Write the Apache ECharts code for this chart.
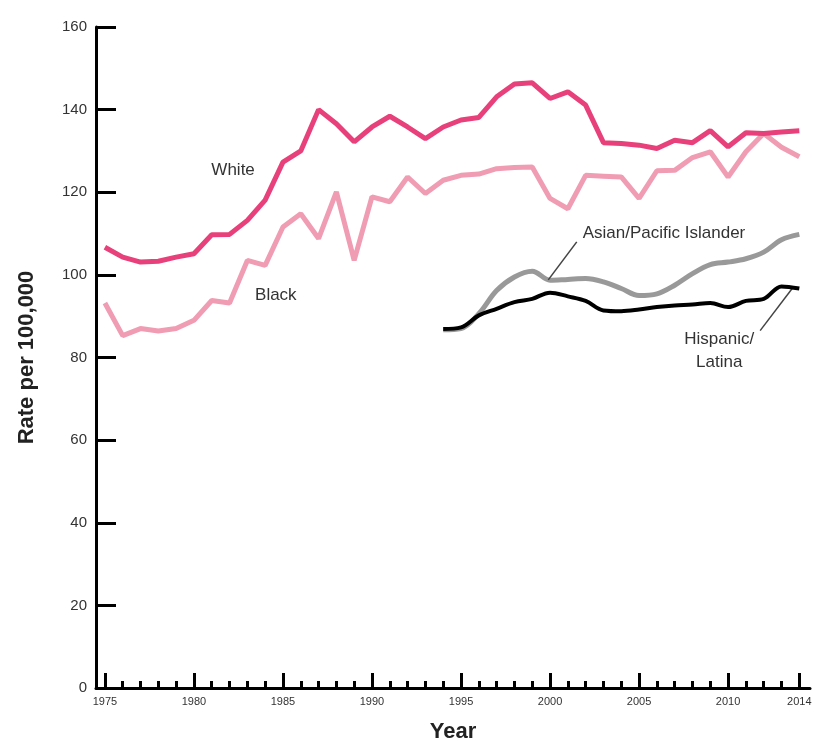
<!DOCTYPE html>
<html>
<head>
<meta charset="utf-8">
<script src="https://cdn.jsdelivr.net/npm/echarts@6/dist/echarts.min.js"></script>
<style>
  html, body { margin: 0; padding: 0; background: #fff; }
  #chart { width: 817px; height: 742px; }
</style>
</head>
<body>
<div id="chart"></div>
<script>
// Breast cancer incidence rates by race/ethnicity, per 100,000
const years = [];
for (let y = 1975; y <= 2014; y++) years.push(y);
const apiYears = [];
for (let y = 1994; y <= 2014; y++) apiYears.push(y);

const whiteRates = [106.7, 104.3, 103.1, 103.3, 104.3, 105.1, 109.7, 109.8, 113.2, 118.1,
  127.3, 130.0, 140.0, 136.6, 132.2, 135.8, 138.4, 135.8, 133.0, 135.8,
  137.5, 138.1, 143.1, 146.2, 146.5, 142.7, 144.3, 141.1, 132.0, 131.8,
  131.4, 130.6, 132.6, 132.0, 134.9, 131.0, 134.4, 134.2, 134.6, 134.9];
const blackRates = [93.2, 85.3, 87.0, 86.4, 87.0, 89.0, 93.8, 93.2, 103.5, 102.3,
  111.6, 114.8, 108.8, 120.1, 103.5, 118.9, 117.7, 123.7, 119.7, 122.9,
  124.1, 124.4, 125.7, 126.0, 126.1, 118.5, 116.0, 124.1, 123.9, 123.7,
  118.5, 125.2, 125.3, 128.4, 129.8, 123.7, 129.8, 134.2, 130.9, 128.6];
const asianRates = [86.7, 87.0, 90.6, 96.2, 99.5, 100.9, 98.7, 98.9, 99.1, 98.3,
  96.7, 95.0, 95.4, 97.5, 100.3, 102.5, 103.1, 103.9, 105.5, 108.5, 109.8];
const hispanicRates = [86.9, 87.3, 90.2, 91.8, 93.4, 94.2, 95.7, 94.8, 93.7, 91.4,
  91.2, 91.6, 92.2, 92.6, 92.8, 93.2, 92.2, 93.7, 94.2, 97.2, 96.7];

const xTickLabels = [1975, 1980, 1985, 1990, 1995, 2000, 2005, 2010, 2014];

const pair = (xs, ys) => xs.map((x, i) => [x, ys[i]]);

const FONT = '"Liberation Sans", Arial, sans-serif';
const labelText = { color: '#333', fontFamily: FONT, fontSize: 17 };

const chart = echarts.init(document.getElementById('chart'), null, { renderer: 'canvas' });

chart.setOption({
  animation: false,
  backgroundColor: '#fff',
  grid: { left: 96, top: 27, right: 7, bottom: 54, containLabel: false, outerBoundsMode: 'none' },
  xAxis: [
    {
      type: 'value', min: 1974.5, max: 2014.6,
      name: 'Year', nameLocation: 'middle', nameGap: 33,
      nameTextStyle: { fontFamily: FONT, fontSize: 22, fontWeight: 'bold', color: '#222' },
      axisLine: { show: true, onZero: false, lineStyle: { color: '#000', width: 3 } },
      axisTick: { show: true, inside: true, length: 15, customValues: xTickLabels,
        lineStyle: { color: '#000', width: 3 } },
      axisLabel: { customValues: xTickLabels, margin: 8, color: '#333',
        fontFamily: FONT, fontSize: 11, formatter: v => String(Math.round(v)) },
      splitLine: { show: false }
    },
    {
      // yearly minor ticks
      type: 'value', min: 1974.5, max: 2014.6, position: 'bottom',
      axisLine: { show: false },
      axisTick: { show: true, inside: true, length: 7, customValues: years,
        lineStyle: { color: '#000', width: 3 } },
      axisLabel: { show: false },
      splitLine: { show: false }
    }
  ],
  yAxis: {
    type: 'value', min: 0, max: 160, interval: 20,
    name: 'Rate per 100,000', nameLocation: 'middle', nameGap: 58, nameRotate: 90,
    nameTextStyle: { fontFamily: FONT, fontSize: 22, fontWeight: 'bold', color: '#222' },
    axisLine: { show: true, lineStyle: { color: '#000', width: 3 } },
    axisTick: { show: true, inside: true, length: 20, lineStyle: { color: '#000', width: 3 } },
    axisLabel: { margin: 9, color: '#333', fontFamily: FONT, fontSize: 15 },
    splitLine: { show: false }
  },
  series: [
    {
      name: 'Black', type: 'line', data: pair(years, blackRates), showSymbol: false,
      lineStyle: { color: '#f09cb3', width: 5 }, z: 2,
      markPoint: {
        symbol: 'circle', symbolSize: 0,
        label: Object.assign({ show: true, formatter: 'Black', position: 'inside' }, labelText),
        data: [{ coord: [1984.6, 95] }]
      }
    },
    {
      name: 'White', type: 'line', data: pair(years, whiteRates), showSymbol: false,
      lineStyle: { color: '#e8407a', width: 5 }, z: 3,
      markPoint: {
        symbol: 'circle', symbolSize: 0,
        label: Object.assign({ show: true, formatter: 'White', position: 'inside' }, labelText),
        data: [{ coord: [1982.2, 125.3] }]
      }
    },
    {
      name: 'Asian/Pacific Islander', type: 'line', data: pair(apiYears, asianRates),
      showSymbol: false, smooth: 0.35,
      lineStyle: { color: '#999999', width: 5 }, z: 4,
      markPoint: {
        symbol: 'circle', symbolSize: 0,
        label: Object.assign({ show: true, formatter: 'Asian/Pacific Islander', position: 'inside' }, labelText),
        data: [{ coord: [2006.4, 110.1] }]
      },
      markLine: {
        silent: true, symbol: 'none', label: { show: false },
        lineStyle: { color: '#444', width: 1.5, type: 'solid' },
        data: [[{ coord: [1999.9, 98.8] }, { coord: [2001.5, 108] }]]
      }
    },
    {
      name: 'Hispanic/Latina', type: 'line', data: pair(apiYears, hispanicRates),
      showSymbol: false, smooth: 0.35,
      lineStyle: { color: '#000000', width: 4 }, z: 5,
      markPoint: {
        symbol: 'circle', symbolSize: 0,
        label: Object.assign({ show: true, formatter: 'Hispanic/\nLatina', position: 'inside',
          lineHeight: 23, align: 'center' }, labelText),
        data: [{ coord: [2009.5, 81.6] }]
      },
      markLine: {
        silent: true, symbol: 'none', label: { show: false },
        lineStyle: { color: '#444', width: 1.5, type: 'solid' },
        data: [[{ coord: [2011.8, 86.5] }, { coord: [2013.6, 96.7] }]]
      }
    }
  ]
});
</script>
</body>
</html>
